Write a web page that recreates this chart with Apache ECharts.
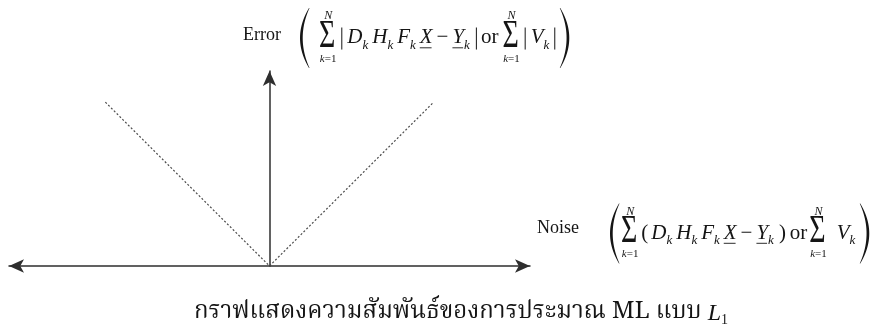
<!DOCTYPE html>
<html>
<head>
<meta charset="utf-8">
<script src="https://cdn.jsdelivr.net/npm/echarts@6/dist/echarts.min.js"></script>
<style>
  html, body { margin: 0; padding: 0; background: #fff; }
  #chart { width: 881px; height: 331px; }
</style>
</head>
<body>
<div id="chart"></div>
<script>
// L1 estimation: error grows with the absolute value of the noise
const noiseValues = [-0.63, 0, 0.63];
const errorValues = [0.63, 0, 0.63];
const xRange = [-1, 1];
const yRange = [0, 0.75];

const errorLabel = 'Error';
const noiseLabel = 'Noise';
const captionThai = 'กราฟแสดงความสัมพันธ์ของการประมาณ ML แบบ ';

const INK = '#151515';
const SERIF = '"Liberation Serif", "Times New Roman", serif';
const THAI = '"Noto Serif Thai", "Noto Sans Thai", "Liberation Serif", serif';

// Formula pieces: it = italic, rm = roman, sub = subscript, bar = |, sum = Σ with limits, big = tall bracket
const errorFormula = [
  { t: 'big', s: '(' }, { t: 'sum', pre: 9 }, { t: 'bar', pre: 6 },
  { t: 'it', s: 'D', pre: 5 }, { t: 'sub', s: 'k' },
  { t: 'it', s: 'H', pre: 4 }, { t: 'sub', s: 'k' },
  { t: 'it', s: 'F', pre: 4 }, { t: 'sub', s: 'k' },
  { t: 'it', s: 'X', pre: 4, under: true }, { t: 'rm', s: '−', pre: 4 },
  { t: 'it', s: 'Y', pre: 4, under: true }, { t: 'sub', s: 'k' },
  { t: 'bar', pre: 6 }, { t: 'rm', s: 'or', pre: 4 },
  { t: 'sum', pre: 4 }, { t: 'bar', pre: 6 },
  { t: 'it', s: 'V', pre: 5 }, { t: 'sub', s: 'k' }, { t: 'bar', pre: 5 },
  { t: 'big', s: ')', pre: 5 }
];
const noiseFormula = [
  { t: 'big', s: '(' }, { t: 'sum', pre: 1 },
  { t: 'rm', s: '(', pre: 4 },
  { t: 'it', s: 'D', pre: 3 }, { t: 'sub', s: 'k' },
  { t: 'it', s: 'H', pre: 4 }, { t: 'sub', s: 'k' },
  { t: 'it', s: 'F', pre: 4 }, { t: 'sub', s: 'k' },
  { t: 'it', s: 'X', pre: 4, under: true }, { t: 'rm', s: '−', pre: 4 },
  { t: 'it', s: 'Y', pre: 4, under: true }, { t: 'sub', s: 'k' },
  { t: 'rm', s: ')', pre: 5 }, { t: 'rm', s: 'or', pre: 4 },
  { t: 'sum', pre: 2 },
  { t: 'it', s: 'V', pre: 11 }, { t: 'sub', s: 'k' },
  { t: 'big', s: ')', pre: 5 }
];

const measureCtx = document.createElement('canvas').getContext('2d');
function textWidth(s, font) { measureCtx.font = font; return measureCtx.measureText(s).width; }
function serifFont(italic, size) { return (italic ? 'italic ' : '') + size + 'px ' + SERIF; }

// text element placed by its alphabetic baseline
function textAt(s, x, base, font, size) {
  return {
    type: 'text', silent: true,
    style: { text: s, x: x, y: base - 0.305 * size, font: font, fill: INK, verticalAlign: 'middle', align: 'left' }
  };
}

// tall bracket drawn as a thin crescent polygon
function bigBracket(x, top, bottom, w, t, open) {
  const n = 24, outer = [], inner = [];
  for (let i = 0; i <= n; i++) {
    const u = i / n;
    const y = top + (bottom - top) * u;
    const bulge = 4 * u * (1 - u);
    const thick = t * bulge + 0.5;
    if (open) {
      const xo = x + w - w * bulge;
      outer.push([xo, y]);
      inner.push([xo + thick, y]);
    } else {
      const xo = x + w * bulge;
      outer.push([xo, y]);
      inner.push([xo - thick, y]);
    }
  }
  return { type: 'polygon', silent: true, shape: { points: outer.concat(inner.reverse()) }, style: { fill: INK } };
}

function layoutFormula(tokens, x0, axisY, size) {
  const els = [];
  const base = axisY + size * 0.3;
  let x = x0;
  const sigmaSize = 40;
  const sigmaScale = 0.7;
  const limSize = 12;
  tokens.forEach(function (tk) {
    x += tk.pre || 0;
    if (tk.t === 'it' || tk.t === 'rm' || tk.t === 'sub') {
      const sz = tk.t === 'sub' ? Math.round(size * 0.6) : size;
      const f = serifFont(tk.t !== 'rm', sz);
      const b = base + (tk.t === 'sub' ? size * 0.24 : 0);
      els.push(textAt(tk.s, x, b, f, sz));
      const w = textWidth(tk.s, f);
      if (tk.under) {
        els.push({ type: 'line', silent: true, shape: { x1: x, y1: base + 3.5, x2: x + w - 1, y2: base + 3.5 }, style: { stroke: INK, lineWidth: 0.9 } });
      }
      x += w;
    } else if (tk.t === 'bar') {
      els.push({ type: 'line', silent: true, shape: { x1: x + 0.5, y1: base - size * 0.8, x2: x + 0.5, y2: base + size * 0.25 }, style: { stroke: INK, lineWidth: 1 } });
      x += 1;
    } else if (tk.t === 'sum') {
      const f = serifFont(false, sigmaSize);
      const w = textWidth('Σ', f) * sigmaScale;
      const cy = axisY - 2;
      els.push({
        type: 'text', silent: true, x: x, y: cy, scaleX: sigmaScale,
        style: { text: 'Σ', x: 0, y: 0, font: f, fill: INK, verticalAlign: 'middle', align: 'left' }
      });
      const cx = x + w / 2 + 1;
      const half = sigmaSize * 0.33;
      const nf = serifFont(true, limSize);
      els.push(textAt('N', cx - textWidth('N', nf) / 2, cy - half - 3, nf, limSize));
      const kf = serifFont(true, limSize - 1);
      const ef = serifFont(false, limSize - 1);
      const kw = textWidth('k', kf), ew = textWidth('=1', ef);
      const lx = cx - (kw + ew) / 2;
      els.push(textAt('k', lx, cy + half + limSize + 1, kf, limSize - 1));
      els.push(textAt('=1', lx + kw, cy + half + limSize + 1, ef, limSize - 1));
      x += w;
    } else if (tk.t === 'big') {
      els.push(bigBracket(x, axisY - 30, axisY + 30, 9, 2.2, tk.s === '('));
      x += 10;
    }
  });
  return { els: els, width: x - x0 };
}

function layoutCaption(cx, base) {
  const size = 24;
  const tf = size + 'px ' + THAI;
  const lf = 'italic ' + size + 'px ' + SERIF;
  const sfSize = Math.round(size * 0.6);
  const sf = sfSize + 'px ' + SERIF;
  const w1 = textWidth(captionThai, tf), w2 = textWidth('L', lf), w3 = textWidth('1', sf);
  const x0 = cx - (w1 + w2 + w3) / 2;
  return [
    textAt(captionThai, x0, base, tf, size),
    textAt('L', x0 + w1, base, lf, size),
    textAt('1', x0 + w1 + w2, base + 4, sf, sfSize)
  ];
}

const errorParts = layoutFormula(errorFormula, 300, 38, 21);
const noiseParts = layoutFormula(noiseFormula, 610, 233.5, 21);

const graphics = [].concat(
  [textAt(errorLabel, 243, 41, serifFont(false, 18), 18)],
  errorParts.els,
  [textAt(noiseLabel, 537, 234, serifFont(false, 18), 18)],
  noiseParts.els,
  layoutCaption(461, 321)
);

const chart = echarts.init(document.getElementById('chart'), null, { renderer: 'canvas' });
const axisLineStyle = { color: '#2e2e2e', width: 1.5 };
chart.setOption({
  backgroundColor: '#ffffff',
  animation: false,
  grid: { left: 9, right: 351, top: 71, bottom: 65 },
  xAxis: {
    type: 'value', min: xRange[0], max: xRange[1],
    axisLine: { show: true, symbol: ['arrow', 'arrow'], symbolSize: [10, 15], lineStyle: axisLineStyle },
    axisTick: { show: false }, axisLabel: { show: false }, splitLine: { show: false }
  },
  yAxis: {
    type: 'value', min: yRange[0], max: yRange[1],
    axisLine: { show: true, onZero: true, symbol: ['none', 'arrow'], symbolSize: [10, 15], lineStyle: axisLineStyle },
    axisTick: { show: false }, axisLabel: { show: false }, splitLine: { show: false }
  },
  series: [{
    type: 'line',
    data: noiseValues.map(function (v, i) { return [v, errorValues[i]]; }),
    symbol: 'none',
    lineStyle: { color: '#4a4a4a', width: 1.2, type: [2, 2] },
    z: 1
  }],
  graphic: graphics
});
</script>
</body>
</html>
